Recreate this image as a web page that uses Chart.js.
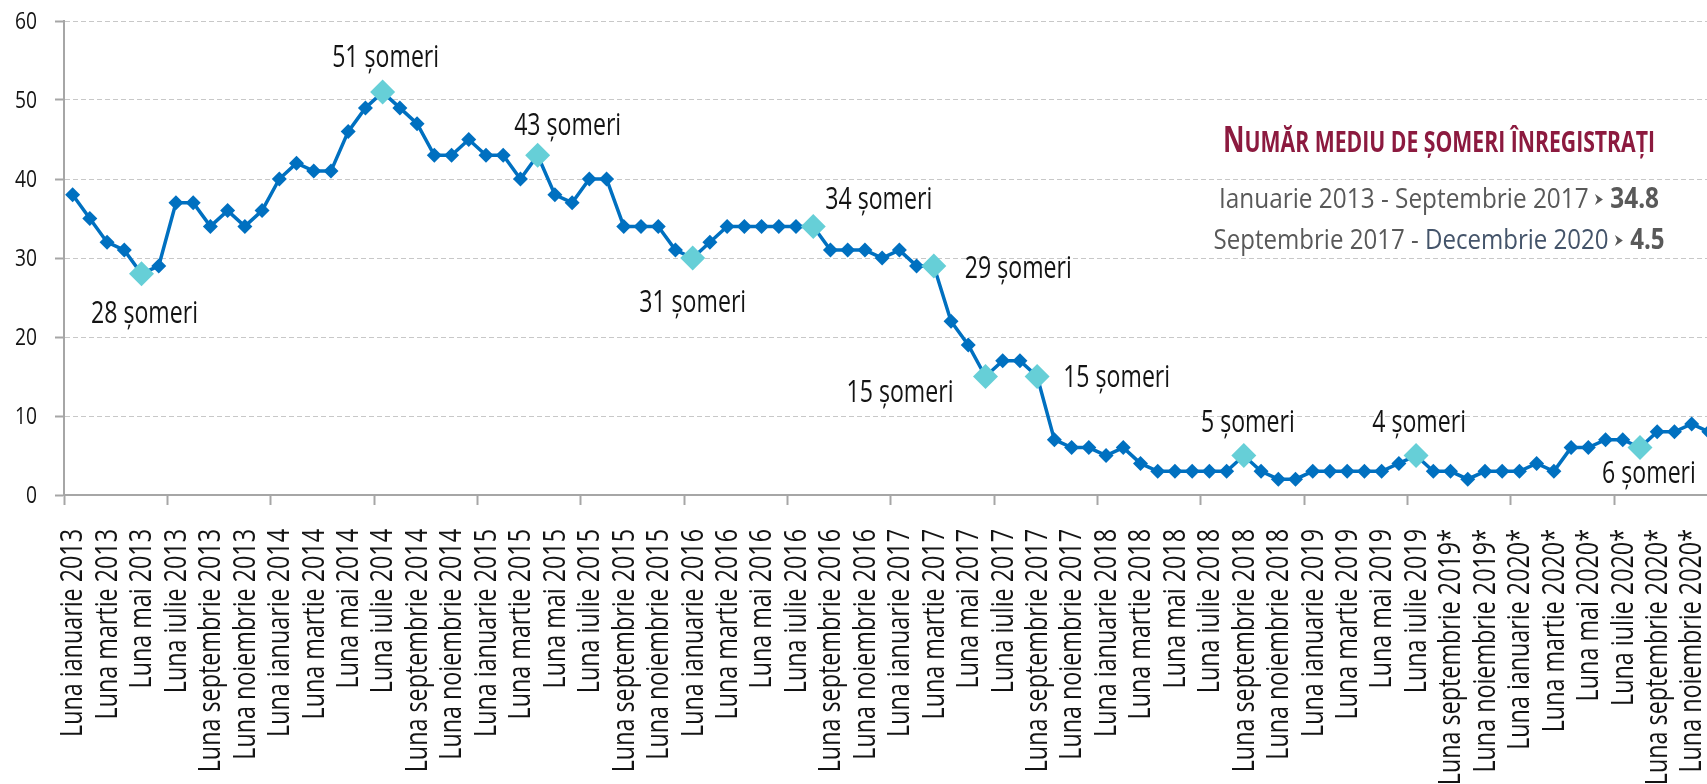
<!DOCTYPE html>
<html>
<head>
<meta charset="utf-8">
<script src="https://cdn.jsdelivr.net/npm/chart.js@4.4.1/dist/chart.umd.min.js"></script>
<style>
  html, body { margin: 0; padding: 0; overflow: hidden; background: #fff; }
  #wrap { width: 1730px; height: 784px; }
</style>
</head>
<body>
<div id="wrap"><canvas id="somajChart" width="1730" height="784"></canvas></div>
<script>
// categorii: luni si ani
const luni = ['ianuarie', 'februarie', 'martie', 'aprilie', 'mai', 'iunie', 'iulie',
              'august', 'septembrie', 'octombrie', 'noiembrie', 'decembrie'];
const ani = [2013, 2014, 2015, 2016, 2017, 2018, 2019, 2020];
const primaLunaProvizorie = 80; // de la septembrie 2019 valorile au asterisc

// numar mediu de someri, pe ani (ian - dec)
const v2013 = [38, 35, 32, 31, 28, 29, 37, 37, 34, 36, 34, 36];
const v2014 = [40, 42, 41, 41, 46, 49, 51, 49, 47, 43, 43, 45];
const v2015 = [43, 43, 40, 43, 38, 37, 40, 40, 34, 34, 34, 31];
const v2016 = [30, 32, 34, 34, 34, 34, 34, 34, 31, 31, 31, 30];
const v2017 = [31, 29, 29, 22, 19, 15, 17, 17, 15, 7, 6, 6];
const v2018 = [5, 6, 4, 3, 3, 3, 3, 3, 5, 3, 2, 2];
const v2019 = [3, 3, 3, 3, 3, 4, 5, 3, 3, 2, 3, 3];
const v2020 = [3, 4, 3, 6, 6, 7, 7, 6, 8, 8, 9, 8];

// punctele evidentiate si etichetele lor
const evidentiateIdx = [4, 18, 27, 36, 43, 50, 53, 56, 68, 78, 91];
const evidentiateText = ['28 șomeri', '51 șomeri', '43 șomeri', '31 șomeri', '34 șomeri', '29 șomeri',
                         '15 șomeri', '15 șomeri', '5 șomeri', '4 șomeri', '6 șomeri'];

// caseta cu medii
const titluCaseta = 'NUMĂR MEDIU DE ȘOMERI ÎNREGISTRAȚI';
const perioade = [['Ianuarie 2013', 'Septembrie 2017'], ['Septembrie 2017', 'Decembrie 2020']];
const medii = ['34.8', '4.5'];

const valori = [].concat(v2013, v2014, v2015, v2016, v2017, v2018, v2019, v2020);
const etichete = [];
ani.forEach(an => luni.forEach(l => {
    const i = etichete.length;
    etichete.push('Luna ' + l + ' ' + an + (i >= primaLunaProvizorie ? '*' : ''));
}));
const valoriEvidentiate = valori.map((v, i) => evidentiateIdx.includes(i) ? v : null);

const FONT = '"Open Sans", "Noto Sans", sans-serif';
const ALBASTRU = '#0070C0';
const TURCOAZ = '#66CFD7';
const GRI_AXA = '#a6a6a6';
const NEGRU = '#141414';

// pozitia etichetelor fata de punct: [dx, dy, aliniere]
const pozEtichete = [
    [3, 49, 'center'], [3, -25, 'center'], [30, -20, 'center'], [0, 54, 'center'],
    [12, -17, 'left'], [31, 12, 'left'], [-32, 25, 'right'], [26, 10, 'left'],
    [4, -24, 'center'], [3, -24, 'center'], [9, 35, 'center']
];

// fontul din original e ingust, asa ca textul e comprimat pe orizontala
function latimeText(ctx, font, text) {
    ctx.font = font;
    return ctx.measureText(text).width;
}

function textIngust(ctx, text, x, y, sx, rot) {
    ctx.save();
    ctx.translate(x, y);
    if (rot) ctx.rotate(rot);
    ctx.scale(sx, 1);
    ctx.fillText(text, 0, 0);
    ctx.restore();
}

const axePlugin = {
    id: 'eticheteAxe',
    afterDraw(chart) {
        const ctx = chart.ctx;
        const xs = chart.scales.x, ys = chart.scales.y;
        ctx.save();
        ctx.fillStyle = NEGRU;

        // axa Y
        const fy = '24px ' + FONT;
        const sy = 22 / latimeText(ctx, fy, '60');
        ctx.font = fy;
        ctx.textAlign = 'right';
        ctx.textBaseline = 'middle';
        ys.ticks.forEach((t, i) => {
            textIngust(ctx, String(t.value), 37, ys.getPixelForTick(i) + 1, sy, 0);
        });

        // axa X, o eticheta din doua, rotita
        const fx = '31px ' + FONT;
        const sxx = 208 / latimeText(ctx, fx, 'Luna ianuarie 2013');
        ctx.font = fx;
        ctx.textAlign = 'right';
        ctx.textBaseline = 'middle';
        xs.ticks.forEach((t, i) => {
            if (i % 2 !== 0) return;
            textIngust(ctx, xs.getLabelForValue(t.value), xs.getPixelForTick(i) + 1, xs.top + 34, sxx, -Math.PI / 2);
        });
        ctx.restore();
    }
};

const etichetePlugin = {
    id: 'etichetePuncte',
    afterDatasetsDraw(chart) {
        const ctx = chart.ctx;
        const meta = chart.getDatasetMeta(1);
        const f = '31px ' + FONT;
        const sx = 107 / latimeText(ctx, f, '51 șomeri');
        ctx.save();
        ctx.font = f;
        ctx.fillStyle = NEGRU;
        ctx.textBaseline = 'alphabetic';
        evidentiateIdx.forEach((idx, k) => {
            const pt = meta.data[idx];
            const p = pozEtichete[k];
            ctx.textAlign = p[2];
            textIngust(ctx, evidentiateText[k], pt.x + p[0], pt.y + p[1], sx, 0);
        });
        ctx.restore();
    }
};

function sageata(ctx, x, yBaza) {
    ctx.beginPath();
    ctx.moveTo(x, yBaza - 14);
    ctx.lineTo(x + 8, yBaza - 8.5);
    ctx.lineTo(x, yBaza - 3);
    ctx.lineTo(x + 2.5, yBaza - 8.5);
    ctx.closePath();
    ctx.fill();
}

// un rand cu mai multe stiluri, centrat si comprimat la latimea dorita
function scrieRand(ctx, bucati, cx, y, latime) {
    let total = 0;
    bucati.forEach(b => {
        if (b.sageata) b.w = 0;
        else b.w = latimeText(ctx, b.font, b.text);
        total += b.w;
    });
    const nrSageti = bucati.filter(b => b.sageata).length;
    const sx = (latime - nrSageti * 9) / total;
    let x = cx - latime / 2;
    bucati.forEach(b => {
        ctx.fillStyle = b.color;
        if (b.sageata) { sageata(ctx, x, y); x += 9; return; }
        ctx.font = b.font;
        textIngust(ctx, b.text, x, y, sx, 0);
        x += b.w * sx;
    });
}

const casetaPlugin = {
    id: 'casetaMedii',
    afterDraw(chart) {
        const ctx = chart.ctx;
        const cx = 1439;
        ctx.save();
        ctx.textAlign = 'left';
        ctx.textBaseline = 'alphabetic';
        const grena = '#8C1A3F';
        const gri = '#595959';
        scrieRand(ctx, [
            { text: titluCaseta[0], font: 'bold 35px ' + FONT, color: grena },
            { text: titluCaseta.slice(1), font: 'bold 28px ' + FONT, color: grena }
        ], cx, 152, 432);
        scrieRand(ctx, [
            { text: perioade[0][0] + ' - ' + perioade[0][1] + ' ', font: '28px ' + FONT, color: gri },
            { sageata: true, color: gri },
            { text: ' ' + medii[0], font: 'bold 28px ' + FONT, color: gri }
        ], cx, 208, 440);
        scrieRand(ctx, [
            { text: perioade[1][0] + ' - ', font: '28px ' + FONT, color: gri },
            { text: perioade[1][1] + ' ', font: '28px ' + FONT, color: '#44546A' },
            { sageata: true, color: gri },
            { text: ' ' + medii[1], font: 'bold 28px ' + FONT, color: gri }
        ], cx, 249, 451);
        ctx.restore();
    }
};

const ctx = document.getElementById('somajChart');

new Chart(ctx, {
    type: 'line',
    data: {
        labels: etichete,
        datasets: [{
            label: 'Puncte evidențiate',
            data: valoriEvidentiate,
            showLine: false,
            pointStyle: 'rectRot',
            pointRadius: 12.5,
            pointHoverRadius: 12.5,
            pointBackgroundColor: TURCOAZ,
            pointBorderColor: TURCOAZ,
            pointBorderWidth: 0
        }, {
            label: 'Număr mediu de șomeri',
            data: valori,
            borderColor: ALBASTRU,
            borderWidth: 3.5,
            tension: 0,
            pointStyle: 'rectRot',
            pointRadius: 7.5,
            pointHoverRadius: 7.5,
            pointBackgroundColor: ALBASTRU,
            pointBorderColor: ALBASTRU,
            pointBorderWidth: 0
        }]
    },
    options: {
        responsive: false,
        animation: false,
        layout: { padding: { top: 21, right: 9, bottom: 0, left: 0 } },
        plugins: {
            legend: { display: false },
            tooltip: { enabled: false }
        },
        scales: {
            x: {
                type: 'category',
                offset: true,
                grid: {
                    offset: true,
                    drawOnChartArea: false,
                    tickLength: 10,
                    tickWidth: 2,
                    tickColor: c => (c.index % 6 === 0 ? GRI_AXA : 'rgba(0,0,0,0)')
                },
                border: { color: GRI_AXA, width: 2 },
                ticks: { display: false, autoSkip: false },
                afterFit: s => { s.height = 289; s.paddingLeft = 0; s.paddingRight = 0; }
            },
            y: {
                min: 0,
                max: 60,
                grid: {
                    color: '#c8c8c8',
                    lineWidth: 1,
                    tickLength: 9,
                    tickWidth: 2,
                    tickColor: GRI_AXA
                },
                border: { color: GRI_AXA, width: 2, dash: [5, 3] },
                ticks: { display: false, stepSize: 10 },
                afterFit: s => { s.width = 64; s.paddingTop = 0; s.paddingBottom = 0; }
            }
        }
    },
    plugins: [axePlugin, etichetePlugin, casetaPlugin]
});
</script>
</body>
</html>
